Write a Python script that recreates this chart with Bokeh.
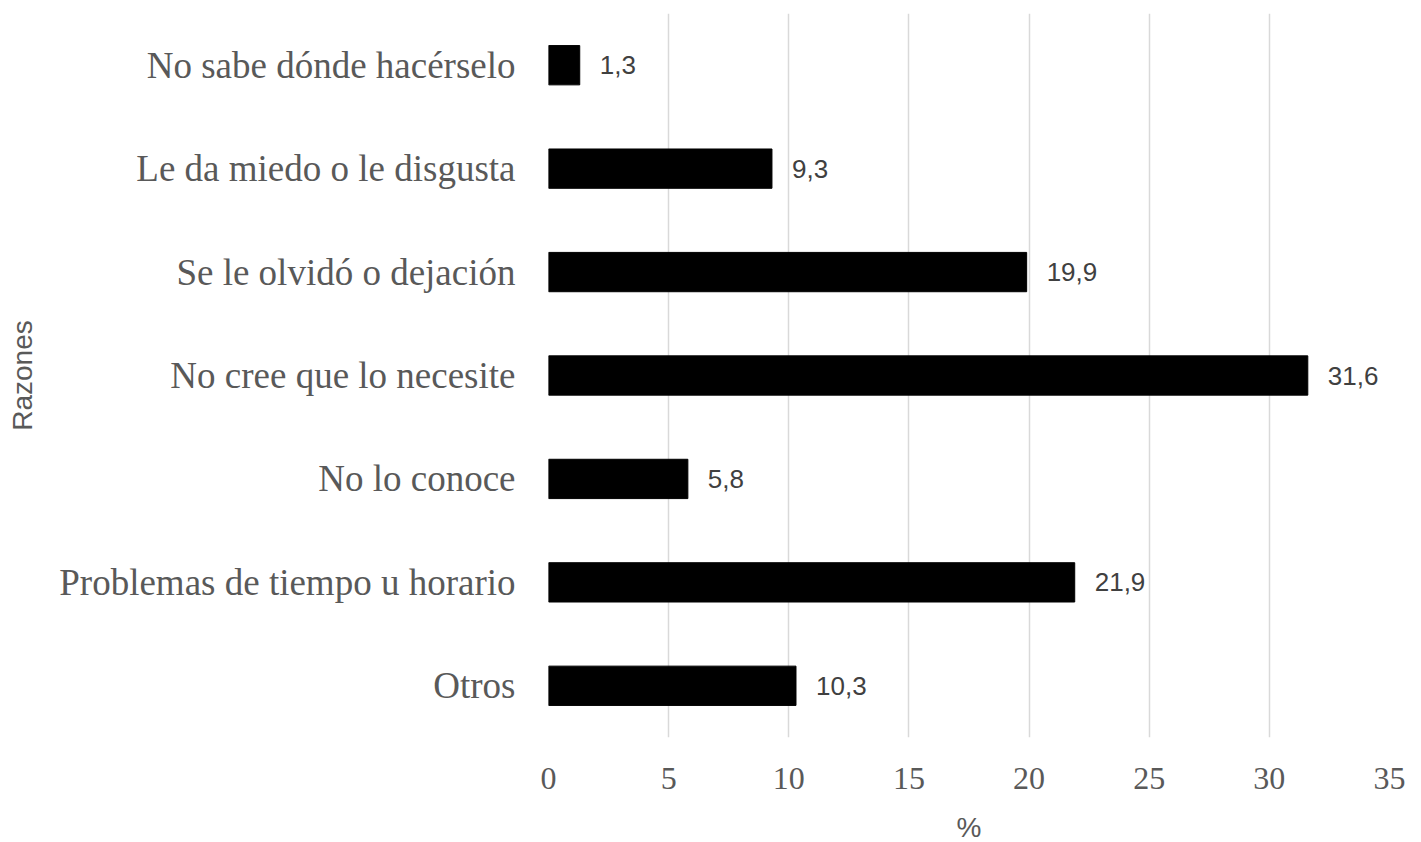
from bokeh.plotting import figure
from bokeh.models import ColumnDataSource, FactorRange, Range1d, FixedTicker, LabelSet
from bokeh.core.properties import value
from bokeh.embed import file_html
from bokeh.resources import INLINE

categories = ["No sabe dónde hacérselo", "Le da miedo o le disgusta", "Se le olvidó o dejación",
              "No cree que lo necesite", "No lo conoce", "Problemas de tiempo u horario", "Otros"]
values = [1.3, 9.3, 19.9, 31.6, 5.8, 21.9, 10.3]
value_labels = ["1,3", "9,3", "19,9", "31,6", "5,8", "21,9", "10,3"]
x_ticks = [0, 5, 10, 15, 20, 25, 30, 35]

src = ColumnDataSource(dict(cat=categories, val=values, lab=value_labels))

p = figure(y_range=FactorRange(factors=list(reversed(categories))), x_range=Range1d(0, 35),
           frame_width=841, frame_height=724, width=1413, height=837,
           min_border_left=548, min_border_right=24, min_border_top=13, min_border_bottom=100,
           output_backend="svg", toolbar_location=None)
p.hbar(y="cat", right="val", left=0, height=0.38, source=src, fill_color="black", line_color="black")

labels = LabelSet(x="val", y="cat", text="lab", source=src, x_offset=20, text_baseline="middle",
                  text_font=value("Liberation Sans"), text_font_size=value("26px"),
                  text_color="#404040")
p.add_layout(labels)

p.outline_line_color = None
p.ygrid.grid_line_color = None
p.xgrid.grid_line_color = "#d9d9d9"
p.xgrid.grid_line_width = 1.5
p.xaxis.ticker = FixedTicker(ticks=x_ticks)

for ax in (p.xaxis[0], p.yaxis[0]):
    ax.axis_line_color = None
    ax.major_tick_line_color = None
    ax.minor_tick_line_color = None
    ax.major_label_text_font = "Liberation Serif"
    ax.major_label_text_color = "#595959"
    ax.axis_label_text_font = "Liberation Sans"
    ax.axis_label_text_font_style = "normal"
    ax.axis_label_text_color = "#595959"
    ax.axis_label_text_font_size = "28px"

p.xaxis.major_label_text_font_size = "32px"
p.yaxis.major_label_text_font_size = "37px"
p.xaxis.major_label_standoff = 24
p.yaxis.major_label_standoff = 27
p.xaxis.axis_label = "%"
p.yaxis.axis_label = "Razones"
p.xaxis.axis_label_standoff = 20
p.yaxis.axis_label_standoff = 18

open("out.html", "w").write(file_html(p, INLINE))
